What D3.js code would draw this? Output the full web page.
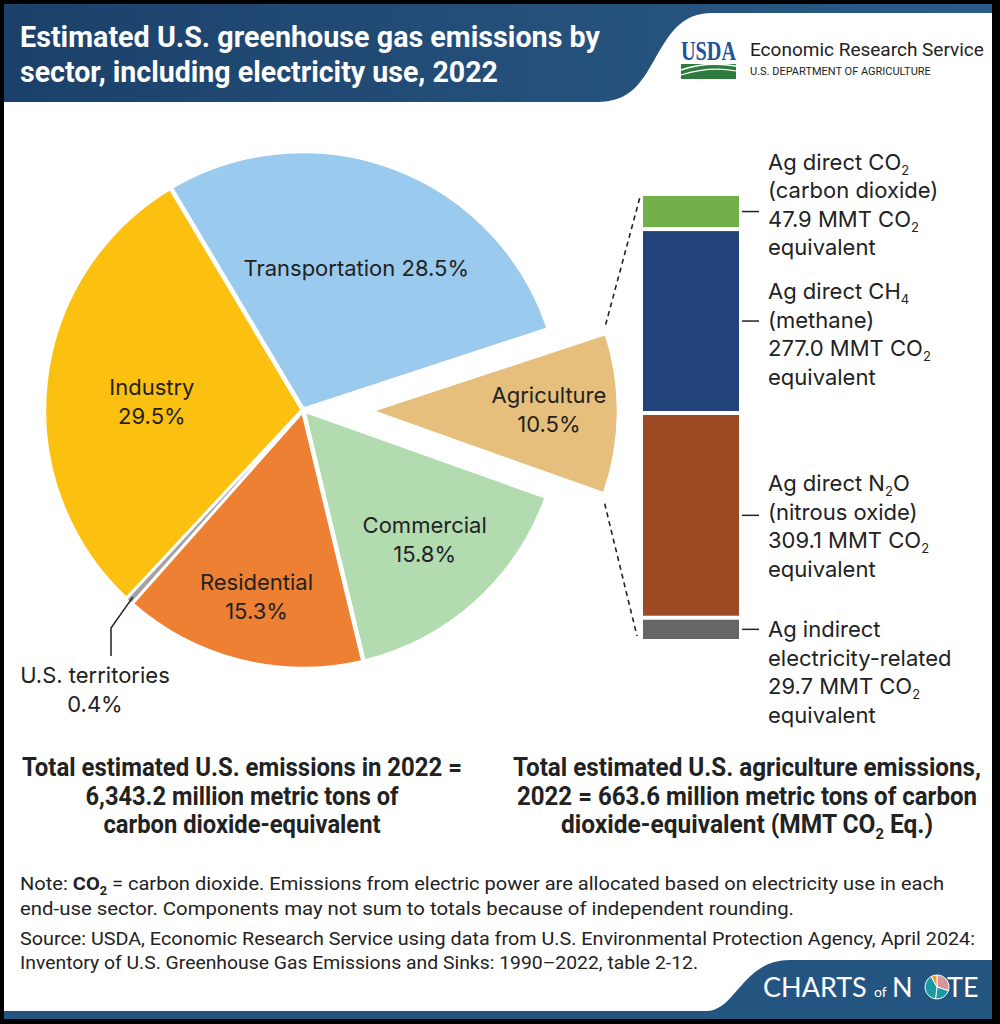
<!DOCTYPE html>
<html>
<head>
<meta charset="utf-8">
<script src="https://cdn.jsdelivr.net/npm/d3@7"></script>
<style>
  html, body { margin: 0; padding: 0; background: #000; }
  svg { display: block; }
</style>
</head>
<body>
<div id="chart"></div>
<script>
// ---- data ----
sectors = ['Transportation', 'Agriculture', 'Commercial', 'Residential', 'U.S. territories', 'Industry'];
sector_pct = [28.5, 10.5, 15.8, 15.3, 0.4, 29.5];
sector_colors = ['#9ACBEE', '#E5BF7B', '#B2DBAF', '#EE8033', '#A3A3A3', '#FCC010'];

ag_parts = ['CO2', 'CH4', 'N2O', 'indirect'];
ag_values = [47.9, 277.0, 309.1, 29.7];
ag_colors = ['#72B04A', '#22447A', '#9D4A24', '#666666'];
// each line: [text, subscript, text after]
ag_labels = [
  [['Ag direct CO', '2'], ['(carbon dioxide)'], ['47.9 MMT CO', '2'], ['equivalent']],
  [['Ag direct CH', '4'], ['(methane)'], ['277.0 MMT CO', '2'], ['equivalent']],
  [['Ag direct N', '2', 'O'], ['(nitrous oxide)'], ['309.1 MMT CO', '2'], ['equivalent']],
  [['Ag indirect'], ['electricity-related'], ['29.7 MMT CO', '2'], ['equivalent']]
];

total_left = ['Total estimated U.S. emissions in 2022 =', '6,343.2 million metric tons of', 'carbon dioxide-equivalent'];
total_right = [['Total estimated U.S. agriculture emissions,'], ['2022 = 663.6 million metric tons of carbon'], ['dioxide-equivalent (MMT CO', '2', ' Eq.)']];

// ---- layout ----
W = 1000; H = 1024;
font = 'Inter, Roboto, sans-serif';
cx = 303; cy = 410;
r = 259; r_ag = 250; ag_shift = 66;
start_deg = -30.8;
label_r = [152, 180, 182, 192, 0, 152];
label_dy = [0, -4, -6, 0, 0, 7];
bar_x = 643; bar_w = 96; bar_top = 196; bar_bot = 639; bar_gap = 4;
label_shift = [-42, -22, -24, 8];
line_h = 28.5;

svg = d3.select('#chart').append('svg')
  .attr('width', W).attr('height', H)
  .style('background', '#000');

svg.append('rect').attr('x', 4).attr('y', 4).attr('width', 988).attr('height', 1015).attr('fill', '#fff');

// header band
defs = svg.append('defs');
grad = defs.append('linearGradient').attr('id', 'hdr');
grad.append('stop').attr('offset', '0%').attr('stop-color', '#1b416a');
grad.append('stop').attr('offset', '100%').attr('stop-color', '#2b5c88');

svg.append('rect').attr('x', 4).attr('y', 4).attr('width', 988).attr('height', 98).attr('fill', 'url(#hdr)');
svg.append('path')
  .attr('d', 'M992,13 L712,13 C682,13 670,33 657,55 C643,80 632,102 597,102 L992,102 Z')
  .attr('fill', '#fff');

title = ['Estimated U.S. greenhouse gas emissions by', 'sector, including electricity use, 2022'];
title_w = [580, 478];
title.forEach(function (t, i) {
  var tx = svg.append('text')
    .attr('x', 20).attr('y', 47 + i * 35)
    .attr('fill', '#fff')
    .style('font-family', 'Roboto, sans-serif')
    .style('font-weight', 700)
    .style('font-size', '29px')
    .text(t);
  squeeze(tx, title_w[i]);
});

// USDA logo
usda = svg.append('text')
  .attr('x', 681).attr('y', 60)
  .attr('fill', '#22529a')
  .style('font-family', '"Liberation Serif", serif')
  .style('font-weight', 700)
  .style('font-size', '27px')
  .text('USDA');
squeeze(usda, 55);
svg.append('rect').attr('x', 681).attr('y', 64).attr('width', 55).attr('height', 15).attr('fill', '#2e7b3e');
svg.append('path').attr('d', 'M681,70 Q706,61 736,66').attr('fill', 'none').attr('stroke', '#fff').attr('stroke-width', 1.6);
svg.append('path').attr('d', 'M681,75 Q710,66 736,71').attr('fill', 'none').attr('stroke', '#fff').attr('stroke-width', 1.2);
svg.append('text')
  .attr('x', 750).attr('y', 56)
  .attr('fill', '#222')
  .style('font-family', 'Roboto, sans-serif')
  .style('font-size', '19px')
  .text('Economic Research Service');
svg.append('text')
  .attr('x', 750).attr('y', 75)
  .attr('fill', '#222')
  .style('font-family', 'Roboto, sans-serif')
  .style('font-size', '11px')
  .text('U.S. DEPARTMENT OF AGRICULTURE');

// ---- pie ----
a0 = start_deg * Math.PI / 180;
pie = d3.pie().sort(null).startAngle(a0).endAngle(a0 + 2 * Math.PI);
arcs = pie(sector_pct);

arc = d3.arc().innerRadius(0).outerRadius(function (d) { return d.index === 1 ? r_ag : r; });

function shift(d) {
  if (d.index !== 1) return [0, 0];
  var m = (d.startAngle + d.endAngle) / 2;
  return [Math.sin(m) * ag_shift, -Math.cos(m) * ag_shift];
}

pie_g = svg.append('g').attr('transform', 'translate(' + cx + ',' + cy + ')');
order = [0, 1, 2, 3, 5, 4];
order.forEach(function (i) {
  var d = arcs[i];
  var s = shift(d);
  pie_g.append('path')
    .attr('d', arc(d))
    .attr('transform', 'translate(' + s[0] + ',' + s[1] + ')')
    .attr('fill', sector_colors[i])
    .attr('stroke', '#fff')
    .attr('stroke-width', i === 4 ? 1.8 : 4.5);
});

// slice labels
arcs.forEach(function (d, i) {
  if (i === 4) return;
  var s = shift(d);
  var c = d3.arc().innerRadius(label_r[i]).outerRadius(label_r[i]).centroid(d);
  var x = c[0] + s[0], y = c[1] + s[1] + label_dy[i];
  var lines = i === 0 ? [sectors[i] + ' ' + sector_pct[i] + '%'] : [sectors[i], sector_pct[i] + '%'];
  var y0 = lines.length === 1 ? y + 8 : y - 6;
  lines.forEach(function (t, k) {
    pie_g.append('text')
      .attr('x', x).attr('y', y0 + k * 29)
      .attr('text-anchor', 'middle')
      .attr('fill', '#222')
      .style('font-family', font)
      .style('font-size', '22px')
      .text(t);
  });
});

// territories callout
ter = arcs[4];
tm = (ter.startAngle + ter.endAngle) / 2;
tp = [Math.sin(tm) * (r - 6), -Math.cos(tm) * (r - 6)];
pie_g.append('path')
  .attr('d', d3.line()([[tp[0], tp[1]], [111 - cx, 628 - cy], [111 - cx, 656 - cy]]))
  .attr('fill', 'none').attr('stroke', '#222').attr('stroke-width', 1.5);
['U.S. territories', sector_pct[4] + '%'].forEach(function (t, k) {
  svg.append('text')
    .attr('x', 95).attr('y', 683 + k * 29)
    .attr('text-anchor', 'middle')
    .attr('fill', '#222')
    .style('font-family', font)
    .style('font-size', '22px')
    .text(t);
});

// ---- stacked bar for agriculture ----
ag_sum = d3.sum(ag_values);
y = d3.scaleLinear().domain([0, ag_sum]).range([0, bar_bot - bar_top - bar_gap * (ag_values.length - 1)]);
acc = 0;
segs = ag_values.map(function (v, i) {
  var y0 = bar_top + y(acc) + i * bar_gap;
  acc += v;
  return { y0: y0, h: y(v), i: i };
});

bar_g = svg.append('g');
bar_g.selectAll('rect').data(segs).enter().append('rect')
  .attr('x', bar_x).attr('y', function (d) { return d.y0; })
  .attr('width', bar_w).attr('height', function (d) { return d.h; })
  .attr('fill', function (d) { return ag_colors[d.i]; });

bar_g.selectAll('line.tick').data(segs).enter().append('line')
  .attr('x1', bar_x + bar_w + 3).attr('x2', bar_x + bar_w + 20)
  .attr('y1', function (d) { return d.y0 + d.h / 2; })
  .attr('y2', function (d) { return d.y0 + d.h / 2; })
  .attr('stroke', '#222').attr('stroke-width', 1.5);

segs.forEach(function (d) {
  var base = d.y0 + d.h / 2 + label_shift[d.i];
  ag_labels[d.i].forEach(function (ln, k) {
    var tx = bar_g.append('text')
      .attr('x', bar_x + bar_w + 29).attr('y', base + k * line_h)
      .attr('fill', '#222')
      .style('font-family', font)
      .style('font-size', '22px');
    sub_line(tx, ln, 13, 5);
  });
});

// dashed connectors from agriculture slice to the bar
ag = arcs[1];
as = shift(ag);
top_c = [cx + as[0] + Math.sin(ag.startAngle) * (r_ag - 3) + 2, cy + as[1] - Math.cos(ag.startAngle) * (r_ag - 3) - 9];
bot_c = [cx + as[0] + Math.sin(ag.endAngle) * (r_ag - 3) + 3, cy + as[1] - Math.cos(ag.endAngle) * (r_ag - 3) + 10];
[[top_c, [bar_x - 3, bar_top + 1]], [bot_c, [bar_x - 6, bar_bot - 3]]].forEach(function (p) {
  svg.append('line')
    .attr('x1', p[0][0]).attr('y1', p[0][1])
    .attr('x2', p[1][0]).attr('y2', p[1][1])
    .attr('stroke', '#222').attr('stroke-width', 1.6)
    .attr('stroke-dasharray', '5,4');
});

// ---- totals ----
tot_w_left = [440, 313, 277];
tot_w_right = [468, 460, 372];
total_left.forEach(function (t, k) {
  var tx = svg.append('text')
    .attr('x', 242).attr('y', 776 + k * 28.5)
    .attr('text-anchor', 'middle')
    .attr('fill', '#222')
    .style('font-family', 'Roboto, sans-serif')
    .style('font-weight', 700)
    .style('font-size', '25px')
    .text(t);
  squeeze(tx, tot_w_left[k]);
});
total_right.forEach(function (ln, k) {
  var tx = svg.append('text')
    .attr('x', 747).attr('y', 776 + k * 28.5)
    .attr('text-anchor', 'middle')
    .attr('fill', '#222')
    .style('font-family', 'Roboto, sans-serif')
    .style('font-weight', 700)
    .style('font-size', '25px');
  sub_line(tx, ln, 15, 6);
  squeeze(tx, tot_w_right[k]);
});

// ---- note and source ----
note = svg.append('text').attr('x', 20).attr('y', 890).attr('fill', '#222')
  .style('font-family', 'Roboto, sans-serif').style('font-size', '19px');
note.append('tspan').text('Note: ');
note.append('tspan').style('font-weight', 700).text('CO');
note.append('tspan').style('font-weight', 700).style('font-size', '12px').attr('dy', 5).text('2');
note.append('tspan').attr('dy', -5).text(' = carbon dioxide. Emissions from electric power are allocated based on electricity use in each');
squeeze(note, 924);

notes = [
  ['end-use sector. Components may not sum to totals because of independent rounding.', 915, 774],
  ['Source: USDA, Economic Research Service using data from U.S. Environmental Protection Agency, April 2024:', 945, 955],
  ['Inventory of U.S. Greenhouse Gas Emissions and Sinks: 1990\u20132022, table 2-12.', 969, 678]
];
notes.forEach(function (n) {
  var tx = svg.append('text').attr('x', 20).attr('y', n[1]).attr('fill', '#222')
    .style('font-family', 'Roboto, sans-serif').style('font-size', '19px')
    .text(n[0]);
  squeeze(tx, n[2]);
});

// ---- footer ----
svg.append('path')
  .attr('d', 'M4,1011 L706,1011 C736,1011 742,960 790,960 L992,960 L992,1019 L4,1019 Z')
  .attr('fill', '#245581');

logo = svg.append('g').attr('fill', '#fff').style('font-family', 'Lato, sans-serif');
logo.append('text').attr('x', 763).attr('y', 997).style('font-size', '27px').text('CHARTS');
logo.append('text').attr('x', 874).attr('y', 997).style('font-size', '14px').text('of');
logo.append('text').attr('x', 892).attr('y', 997).style('font-size', '27px').text('N');
logo.append('text').attr('x', 947).attr('y', 997).style('font-size', '27px').text('TE');
icon = svg.append('g').attr('transform', 'translate(937,987)');
icon_arcs = d3.pie().sort(null)([30, 22, 40, 8]);
icon_cols = ['#D9959A', '#1A9BA3', '#1A9BA3', '#F29A2E'];
icon.selectAll('path').data(icon_arcs).enter().append('path')
  .attr('d', d3.arc().innerRadius(0).outerRadius(12))
  .attr('fill', function (d, i) { return icon_cols[i]; })
  .attr('stroke', '#fff').attr('stroke-width', 1);

// ---- helpers ----
function squeeze(tx, w) {
  var cur = tx.node().getComputedTextLength();
  if (Math.abs(cur - w) > 1) tx.attr('textLength', w).attr('lengthAdjust', 'spacingAndGlyphs');
}

function sub_line(tx, ln, sub_size, drop) {
  tx.append('tspan').text(ln[0]);
  if (ln.length > 1) {
    tx.append('tspan').style('font-size', sub_size + 'px').attr('dy', drop).text(ln[1]);
    if (ln.length > 2) tx.append('tspan').attr('dy', -drop).text(ln[2]);
  }
}
</script>
</body>
</html>
